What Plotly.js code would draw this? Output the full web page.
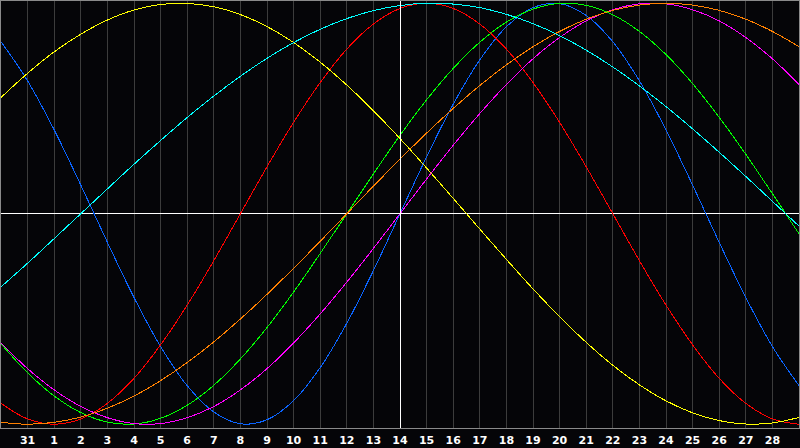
<!DOCTYPE html>
<html>
<head>
<meta charset="utf-8">
<script src="https://cdn.plot.ly/plotly-3.0.1.min.js"></script>
<style>
  html, body { margin: 0; padding: 0; background: #050508; }
  #chart { width: 800px; height: 448px; }
  #chart .shapelayer path { shape-rendering: crispEdges; }
  #chart .scatterlayer path { shape-rendering: crispEdges; }
</style>
</head>
<body>
<div id="chart"></div>
<script>
// Day positions (index -1 .. 29); the axis shows labels for 0 .. 28
const dayIndex = [-1,0,1,2,3,4,5,6,7,8,9,10,11,12,13,14,15,16,17,18,19,20,21,22,23,24,25,26,27,28,29];
const tickPositions = [0,1,2,3,4,5,6,7,8,9,10,11,12,13,14,15,16,17,18,19,20,21,22,23,24,25,26,27,28];
const tickLabels = ["31","1","2","3","4","5","6","7","8","9","10","11","12","13","14","15","16","17","18","19","20","21","22","23","24","25","26","27","28"];
const todayIndex = 14;

// Cycle values, one per day position
const physical = [0.817,0.631,0.398,0.136,-0.136,-0.398,-0.631,-0.817,-0.942,-0.998,-0.979,-0.888,-0.731,-0.520,-0.270,0,0.270,0.520,0.731,0.888,0.979,0.998,0.942,0.817,0.631,0.398,0.136,-0.136,-0.398,-0.631,-0.817];
const emotional = [-0.901,-0.975,-1,-0.975,-0.901,-0.782,-0.623,-0.434,-0.223,0,0.223,0.434,0.623,0.782,0.901,0.975,1,0.975,0.901,0.782,0.623,0.434,0.223,0,-0.223,-0.434,-0.623,-0.782,-0.901,-0.975,-1];
const intellectual = [-0.618,-0.756,-0.866,-0.945,-0.990,-0.999,-0.972,-0.910,-0.815,-0.690,-0.541,-0.372,-0.189,0,0.189,0.372,0.541,0.690,0.815,0.910,0.972,0.999,0.990,0.945,0.866,0.756,0.618,0.458,0.282,0.095,-0.095];
const intuitive = [-0.614,-0.736,-0.837,-0.916,-0.969,-0.997,-0.997,-0.969,-0.916,-0.837,-0.736,-0.614,-0.476,-0.325,-0.165,0,0.165,0.325,0.476,0.614,0.736,0.837,0.916,0.969,0.997,0.997,0.969,0.916,0.837,0.736,0.614];
const aesthetic = [0.552,0.667,0.769,0.853,0.920,0.968,0.994,0.999,0.983,0.946,0.889,0.813,0.720,0.611,0.489,0.357,0.217,0.073,-0.073,-0.217,-0.357,-0.489,-0.611,-0.720,-0.813,-0.889,-0.946,-0.983,-0.999,-0.994,-0.968];
const awareness = [-0.991,-1,-0.991,-0.966,-0.924,-0.866,-0.793,-0.707,-0.609,-0.5,-0.383,-0.259,-0.131,0,0.131,0.259,0.383,0.5,0.609,0.707,0.793,0.866,0.924,0.966,0.991,1,0.991,0.966,0.924,0.866,0.793];
const spiritual = [-0.348,-0.235,-0.118,0,0.118,0.235,0.348,0.457,0.559,0.653,0.738,0.813,0.876,0.927,0.965,0.989,1.000,0.996,0.979,0.947,0.903,0.846,0.777,0.697,0.607,0.509,0.403,0.292,0.177,0.059,-0.059];

const seriesNames = ["Physical","Emotional","Intellectual","Intuitive","Aesthetic","Awareness","Spiritual"];
const seriesData = [physical, emotional, intellectual, intuitive, aesthetic, awareness, spiritual];
const seriesColors = ["#0a64ff","#ff0000","#00ff00","#ff00ff","#ffff00","#ff8000","#00ffff"];

const traces = seriesData.map((vals, k) => ({
  x: dayIndex,
  y: vals,
  name: seriesNames[k],
  type: "scatter",
  mode: "lines",
  line: { color: seriesColors[k], width: 1, shape: "spline", smoothing: 1 },
  hoverinfo: "skip"
}));

const layout = {
  width: 800,
  height: 448,
  margin: { l: 1, r: 1, t: 1, b: 20, pad: 0 },
  paper_bgcolor: "#050508",
  plot_bgcolor: "#050508",
  showlegend: false,
  xaxis: {
    range: [dayIndex[0], dayIndex[dayIndex.length - 1]],
    tickmode: "array",
    tickvals: tickPositions,
    ticktext: tickLabels,
    ticks: "",
    ticklabelstandoff: 2,
    showgrid: true,
    gridcolor: "#3c3c3c",
    gridwidth: 1,
    zeroline: false,
    showline: true,
    linecolor: "#8a8a8a",
    linewidth: 1,
    mirror: true,
    tickfont: { family: "DejaVu Sans, Verdana, sans-serif", size: 11, color: "#ffffff", weight: "bold" },
    fixedrange: true
  },
  yaxis: {
    range: [-1.018, 1.0105],
    showgrid: false,
    showticklabels: false,
    ticks: "",
    zeroline: true,
    zerolinecolor: "#ffffff",
    zerolinewidth: 1,
    showline: true,
    linecolor: "#8a8a8a",
    linewidth: 1,
    mirror: true,
    fixedrange: true
  },
  shapes: [{
    type: "line",
    xref: "x", yref: "paper",
    x0: todayIndex, x1: todayIndex, y0: 0, y1: 1,
    line: { color: "#ffffff", width: 1 },
    layer: "above"
  }]
};

Plotly.newPlot("chart", traces, layout, { staticPlot: true, displayModeBar: false });
</script>
</body>
</html>
